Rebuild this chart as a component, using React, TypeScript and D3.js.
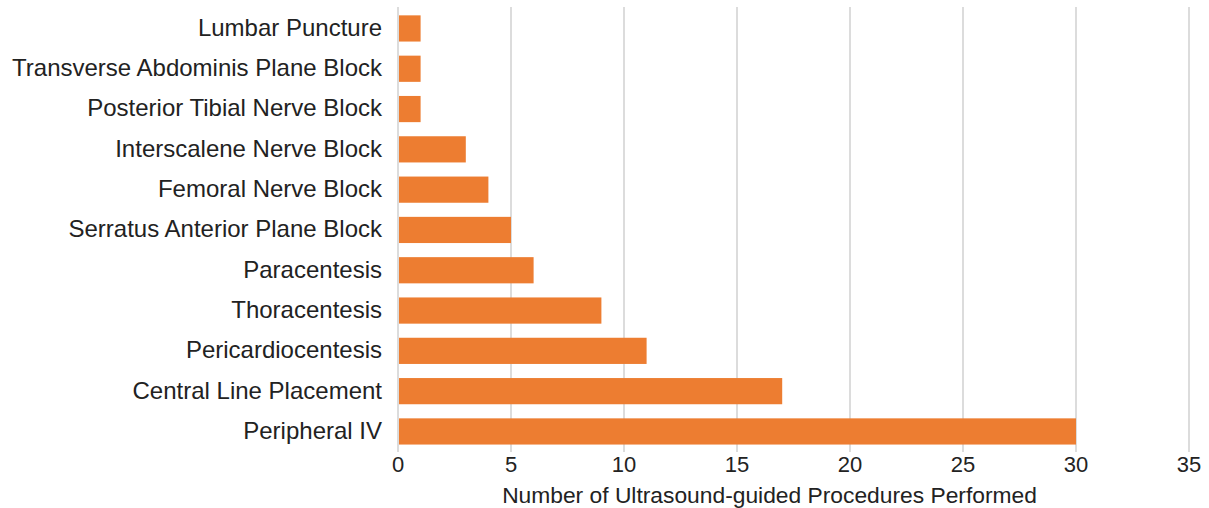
import React from 'react';
import * as d3 from 'd3';

const procedures = [
  'Lumbar Puncture',
  'Transverse Abdominis Plane Block',
  'Posterior Tibial Nerve Block',
  'Interscalene Nerve Block',
  'Femoral Nerve Block',
  'Serratus Anterior Plane Block',
  'Paracentesis',
  'Thoracentesis',
  'Pericardiocentesis',
  'Central Line Placement',
  'Peripheral IV',
];
const counts = [1, 1, 1, 3, 4, 5, 6, 9, 11, 17, 30];
const xTicks = [0, 5, 10, 15, 20, 25, 30, 35];
const xTitle = 'Number of Ultrasound-guided Procedures Performed';

const W = 1209;
const H = 508;
const font = 'Liberation Sans, Arial, sans-serif';

export default function App() {
  const x = d3.scaleLinear().domain([0, 35]).range([398, 1189]);
  const y = d3
    .scaleBand<string>()
    .domain(procedures)
    .range([8.3, 451.6])
    .paddingInner(0.35)
    .paddingOuter(0.175);

  const [gTop, gBottom] = [7, 452];

  return (
    <svg
      width={W}
      height={H}
      style={{ position: 'absolute', left: 0, top: 0, background: '#fff' }}
      fontFamily={font}
    >
      {/* gridlines */}
      {xTicks.map((t) => (
        <line
          key={t}
          x1={x(t)}
          x2={x(t)}
          y1={gTop}
          y2={gBottom}
          stroke="#dcdcdc"
          strokeWidth={2}
        />
      ))}

      {/* bars */}
      {procedures.map((p, i) => (
        <rect
          key={p}
          x={x(0) + 1}
          y={y(p)}
          width={x(counts[i]) - x(0) - 1}
          height={y.bandwidth()}
          fill="#ED7D31"
        />
      ))}

      {/* category labels */}
      {procedures.map((p) => (
        <text
          key={p}
          x={382}
          y={(y(p) ?? 0) + y.bandwidth() / 2 - 1}
          dy="0.35em"
          textAnchor="end"
          fontSize={24}
          fill="#222"
        >
          {p}
        </text>
      ))}

      {/* tick labels */}
      {xTicks.map((t) => (
        <text
          key={t}
          x={x(t)}
          y={464}
          dy="0.35em"
          textAnchor="middle"
          fontSize={22}
          fill="#222"
        >
          {t}
        </text>
      ))}

      <text
        x={769.5}
        y={495}
        dy="0.35em"
        textAnchor="middle"
        fontSize={22.8}
        fill="#222"
      >
        {xTitle}
      </text>
    </svg>
  );
}
